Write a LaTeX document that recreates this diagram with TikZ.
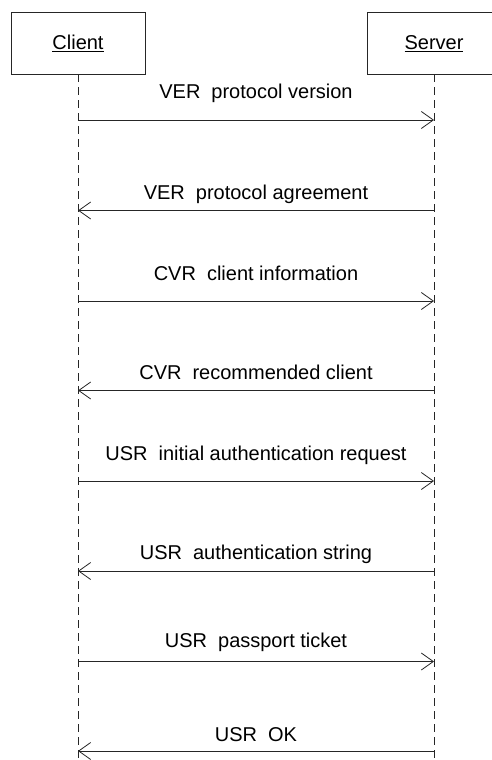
\documentclass[tikz,border=0pt]{standalone}
\usepackage{fontspec}
\setmainfont{Liberation Sans}
\usetikzlibrary{arrows.meta}
\tikzset{
  actor/.style={draw=black!85, line width=0.8pt, minimum width=134pt, minimum height=62pt, inner sep=0pt},
  lifeline/.style={draw=black!85, line width=0.8pt, dash pattern=on 8pt off 5pt},
  msg/.style={draw=black!85, line width=0.8pt, -{Straight Barb[length=12pt,width=17pt,line width=0.8pt]}},
  lbl/.style={anchor=base, font=\fontsize{20pt}{24pt}\selectfont, inner sep=0pt},
}
\newcommand{\gap}{\hspace{0.55em}}
\begin{document}
\begin{tikzpicture}[x=1pt,y=-1pt]
  \useasboundingbox (0,0) rectangle (492,760);
  \clip (0,0) rectangle (492,760);
  % participants
  \node[actor] (client) at (78,43) {};
  \node[actor] (server) at (434,43) {};
  \node[lbl] (clientname) at (78,50) {\underline{Client}};
  \node[lbl] (servername) at (434,50) {\underline{Server}};
  % lifeline ends
  \coordinate (cend) at (78,762);
  \coordinate (send) at (434,762);
  \draw[lifeline] (client.south) -- (cend);
  \draw[lifeline] (server.south) -- (send);
  % message anchors on the lifelines
  \foreach \i/\y in {1/120,2/210.5,3/301,4/390.5,5/481,6/571,7/661.5,8/751}{
    \coordinate (c\i) at (78,\y);
    \coordinate (s\i) at (434,\y);
  }
  % messages
  \draw[msg] (c1) -- (s1);
  \draw[msg] (s2) -- (c2);
  \draw[msg] (c3) -- (s3);
  \draw[msg] (s4) -- (c4);
  \draw[msg] (c5) -- (s5);
  \draw[msg] (s6) -- (c6);
  \draw[msg] (c7) -- (s7);
  \draw[msg] (s8) -- (c8);
  % message labels
  \node[lbl] (m1) at (256,98) {VER\gap protocol version};
  \node[lbl] (m2) at (256,199) {VER\gap protocol agreement};
  \node[lbl] (m3) at (256,280.5) {CVR\gap client information};
  \node[lbl] (m4) at (256,379) {CVR\gap recommended client};
  \node[lbl] (m5) at (256,460) {USR\gap initial authentication request};
  \node[lbl] (m6) at (256,559.5) {USR\gap authentication string};
  \node[lbl] (m7) at (256,647) {USR\gap passport ticket};
  \node[lbl] (m8) at (256,741) {USR\gap OK};
\end{tikzpicture}
\end{document}
